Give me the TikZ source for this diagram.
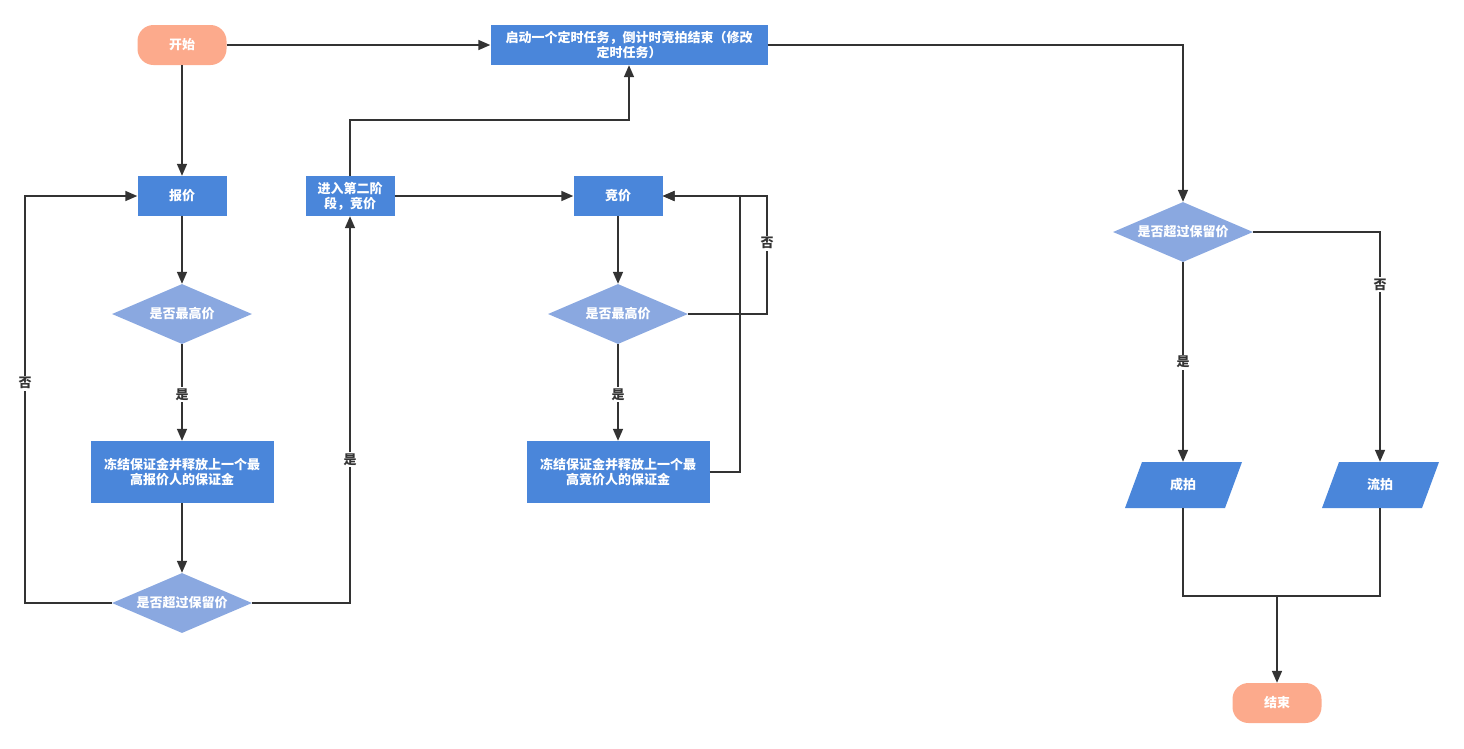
\documentclass[tikz,border=0pt]{standalone}
\usepackage{fontspec}
\setmainfont{Noto Sans CJK SC}
\usetikzlibrary{arrows.meta,shapes.geometric,calc}
\definecolor{bblue}{RGB}{74,134,218}
\definecolor{lblue}{RGB}{138,168,224}
\definecolor{salmon}{RGB}{252,170,140}
\definecolor{lncol}{RGB}{51,51,51}
\begin{document}
\begin{tikzpicture}[x=1pt,y=-1pt,
  txt/.style={text=white,font=\fontsize{13}{15}\selectfont\bfseries,align=center,inner sep=0pt},
  term/.style={txt,fill=salmon,rounded corners=16pt,minimum width=89pt,minimum height=40pt},
  proc/.style={txt,fill=bblue,minimum height=40pt},
  dec/.style={txt,diamond,aspect=2.33,fill=lblue,minimum width=140pt,minimum height=60pt},
  io/.style={txt,minimum width=117pt,minimum height=46pt},
  ln/.style={draw=lncol,line width=1.6pt},
  arr/.style={ln,-{Triangle[length=12pt,width=10pt]}},
  lbl/.style={fill=white,text=lncol,font=\fontsize{13}{14}\selectfont\bfseries,inner sep=1.5pt}]
\useasboundingbox (0,0) rectangle (1464,748);
% nodes
\node[term] (start) at (182,45) {开始};
\node[proc,minimum width=277pt] (top) at (629,45) {启动一个定时任务，倒计时竞拍结束（修改\\定时任务）};
\node[proc,minimum width=89pt] (bj) at (182,196) {报价};
\node[proc,minimum width=89pt] (jr) at (350,196) {进入第二阶\\段，竞价};
\node[proc,minimum width=89pt] (jj) at (618,196) {竞价};
\node[dec] (d1) at (182,314) {是否最高价};
\node[proc,minimum width=183pt,minimum height=62pt] (f1) at (182,472) {冻结保证金并释放上一个最\\高报价人的保证金};
\node[dec] (d2) at (182,603) {是否超过保留价};
\node[dec] (d3) at (618,314) {是否最高价};
\node[proc,minimum width=183pt,minimum height=62pt] (f2) at (618,472) {冻结保证金并释放上一个最\\高竞价人的保证金};
\node[dec] (rd) at (1183,232) {是否超过保留价};
\fill[bblue] (1142,462) -- (1242,462) -- (1225,508) -- (1125,508) -- cycle;
\node[io] (cp) at (1183,485) {成拍};
\fill[bblue] (1339,462) -- (1439,462) -- (1422,508) -- (1322,508) -- cycle;
\node[io] (lp) at (1380,485) {流拍};
\node[term] (end) at (1277,703) {结束};
\coordinate (mrg) at (1277,596);
% edges
\draw[arr] (start) -- (top);
\draw[arr] (start) -- (bj);
\draw[arr] (top.east) -| (rd.north);
\draw[arr] (bj) -- (d1);
\draw[arr] (d1) -- node[lbl,pos=0.52]{是} (f1);
\draw[arr] (f1) -- (d2);
\draw[arr] (d2.west) -- (25,603) |- node[lbl,pos=0.27]{否} (bj.west);
\draw[arr] (d2.east) -| node[lbl,pos=0.685]{是} (jr.south);
\draw[arr] (jr.north) -- (350,120) -| (top.south);
\draw[arr] (jr) -- (jj);
\draw[arr] (jj) -- (d3);
\draw[arr] (d3) -- node[lbl,pos=0.52]{是} (f2);
\draw[arr] (d3.east) -- (767,314) -- node[lbl,pos=0.6]{否} (767,196) -- (jj.east);
\draw[arr] (f2.east) -| (740,196) -- (jj.east);
\draw[arr] (rd.south) -- node[lbl,pos=0.5]{是} (cp.north);
\draw[arr] (rd.east) -| node[lbl,pos=0.615]{否} (lp.north);
\draw[ln] (cp.south) |- (mrg) -| (lp.south);
\draw[arr] (mrg) -- (end.north);
\end{tikzpicture}
\end{document}
